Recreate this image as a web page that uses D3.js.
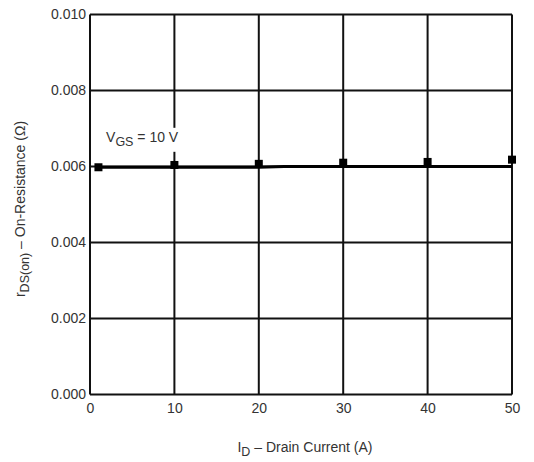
<!DOCTYPE html>
<html>
<head>
<meta charset="utf-8">
<script src="https://cdn.jsdelivr.net/npm/d3@7"></script>
<style>
  body { margin: 0; background: #fff; }
  text { font-family: "Liberation Sans", Arial, sans-serif; fill: #333; }
</style>
</head>
<body>
<div id="chart"></div>
<script>
// data
const current = [1, 10, 20, 30, 40, 50];
const resistance = [0.00598, 0.00604, 0.00607, 0.0061, 0.00612, 0.00618];
const fitCurrent = [1, 20, 23, 50];
const fitResistance = [0.00598, 0.00598, 0.006, 0.006];
const xTicks = [0, 10, 20, 30, 40, 50];
const yTicks = [0, 0.002, 0.004, 0.006, 0.008, 0.010];

const W = 534, H = 462;
const m = { left: 90, top: 14.5, right: 22, bottom: 67.5 };
const w = W - m.left - m.right;
const h = H - m.top - m.bottom;
const fs = "14px";

const svg = d3.select("#chart").append("svg")
  .attr("width", W)
  .attr("height", H);

const g = svg.append("g")
  .attr("transform", `translate(${m.left},${m.top})`);

const x = d3.scaleLinear().domain([0, 50]).range([0, w]);
const y = d3.scaleLinear().domain([0, 0.010]).range([h, 0]);

// grid
g.selectAll(".vgrid").data(xTicks).enter().append("line")
  .attr("x1", d => x(d)).attr("x2", d => x(d))
  .attr("y1", 0).attr("y2", h)
  .attr("stroke", "#111").attr("stroke-width", 2);
g.selectAll(".hgrid").data(yTicks).enter().append("line")
  .attr("x1", 0).attr("x2", w)
  .attr("y1", d => y(d)).attr("y2", d => y(d))
  .attr("stroke", "#111").attr("stroke-width", 2);

// axes (labels only)
const xAxis = d3.axisBottom(x).tickValues(xTicks).tickSize(0).tickPadding(9)
  .tickFormat(d3.format("d"));
g.append("g").attr("transform", `translate(0,${h})`).call(xAxis)
  .call(a => a.select(".domain").remove())
  .selectAll("text").style("font-size", fs)
  .style("font-family", "'Liberation Sans', Arial, sans-serif").attr("fill", "#333");

const yAxis = d3.axisLeft(y).tickValues(yTicks).tickSize(0).tickPadding(4)
  .tickFormat(d3.format(".3f"));
g.append("g").call(yAxis)
  .call(a => a.select(".domain").remove())
  .selectAll("text").style("font-size", fs)
  .style("font-family", "'Liberation Sans', Arial, sans-serif").attr("fill", "#333");

// curve label, with a white gap behind it on the 10 A grid line
const lbl = g.append("text")
  .attr("x", x(1.9)).attr("y", y(0.00665))
  .style("font-size", fs);
lbl.append("tspan").text("V");
lbl.append("tspan").attr("dy", 4).style("font-size", "12.5px").text("GS");
lbl.append("tspan").attr("dy", -4).text(" = 10 V");
const bb = lbl.node().getBBox();
g.insert("rect", () => lbl.node())
  .attr("x", bb.x - 2).attr("y", bb.y - 1).attr("width", bb.width + 4).attr("height", bb.height + 4)
  .attr("fill", "#fff");

// fitted line
const line = d3.line().x(d => x(d[0])).y(d => y(d[1]));
g.append("path")
  .datum(d3.zip(fitCurrent, fitResistance))
  .attr("d", line)
  .attr("fill", "none")
  .attr("stroke", "#000")
  .attr("stroke-width", 2.8);

// measured points
g.selectAll(".pt").data(d3.zip(current, resistance)).enter().append("rect")
  .attr("x", d => x(d[0]) - 4)
  .attr("y", d => y(d[1]) - 4)
  .attr("width", 8).attr("height", 8)
  .attr("fill", "#000");

// axis titles
const xt = svg.append("text")
  .attr("x", m.left + w / 2 + 4).attr("y", 452)
  .attr("text-anchor", "middle")
  .style("font-size", fs);
xt.append("tspan").text("I");
xt.append("tspan").attr("dy", 4).style("font-size", "12.5px").text("D");
xt.append("tspan").attr("dy", -4).text(" \u2013 Drain Current (A)");

const yt = svg.append("text")
  .attr("transform", `translate(25,${209}) rotate(-90)`)
  .attr("text-anchor", "middle")
  .style("font-size", fs);
yt.append("tspan").text("r");
yt.append("tspan").attr("dy", 4).style("font-size", "12.5px").text("DS(on)");
yt.append("tspan").attr("dy", -4).text(" \u2013 On-Resistance (\u03A9)");
</script>
</body>
</html>
